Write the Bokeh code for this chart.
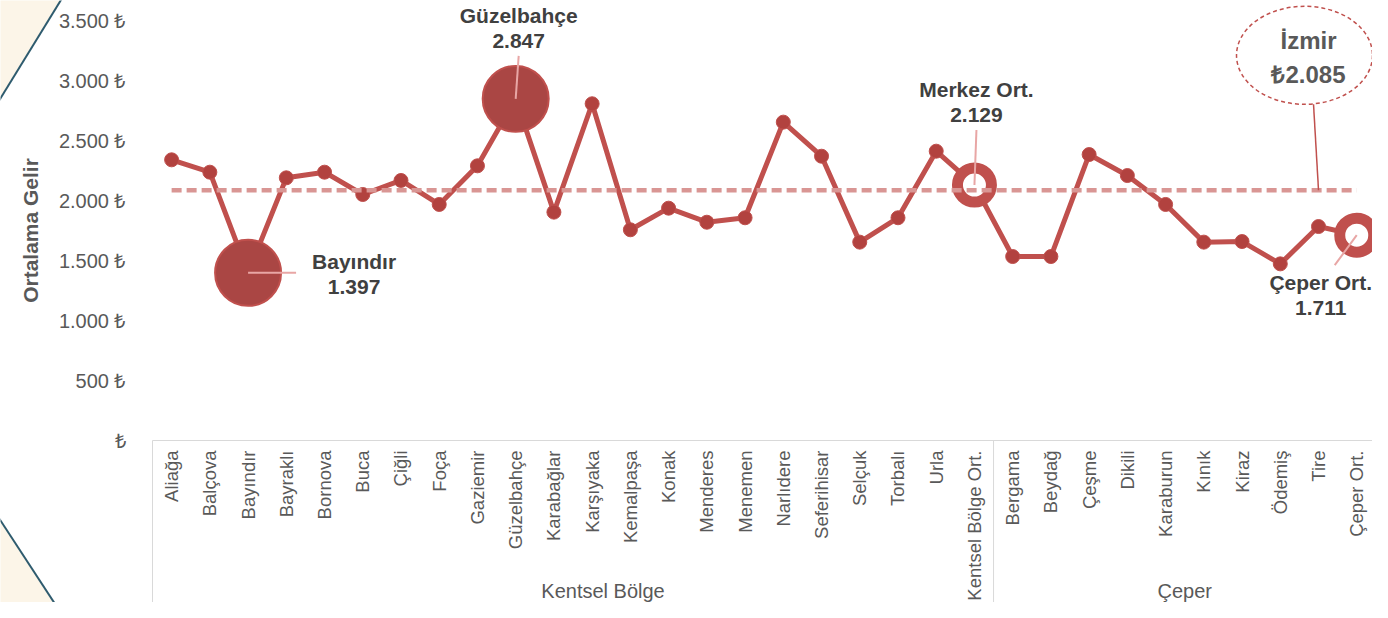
import math
from bokeh.plotting import figure
from bokeh.models import Range1d, LinearAxis, FixedTicker
from bokeh.core.properties import value
from bokeh.embed import file_html
from bokeh.resources import INLINE

# ---------------- data ----------------
categories = ["Aliağa", "Balçova", "Bayındır", "Bayraklı", "Bornova", "Buca", "Çiğli", "Foça",
              "Gaziemir", "Güzelbahçe", "Karabağlar", "Karşıyaka", "Kemalpaşa", "Konak",
              "Menderes", "Menemen", "Narlıdere", "Seferihisar", "Selçuk", "Torbalı", "Urla",
              "Kentsel Bölge Ort.",
              "Bergama", "Beydağ", "Çeşme", "Dikili", "Karaburun", "Kınık", "Kiraz", "Ödemiş",
              "Tire", "Çeper Ort."]
values = [2339, 2236, 1397, 2189, 2236, 2050, 2167, 1967, 2289, 2847, 1903, 2806, 1756, 1936,
          1819, 1856, 2653, 2369, 1653, 1856, 2411, 2129,
          1533, 1533, 2383, 2208, 1967, 1653, 1658, 1472, 1783, 1711]
group_names = ["Kentsel Bölge", "Çeper"]
group_sizes = [22, 10]
izmir_name = "İzmir"
izmir_avg = 2085
y_ticks = [0, 500, 1000, 1500, 2000, 2500, 3000, 3500]
y_title = "Ortalama Gelir"
big_points = ["Bayındır", "Güzelbahçe"]
avg_points = {"Kentsel Bölge Ort.": "Merkez Ort.", "Çeper Ort.": "Çeper Ort."}

# ---------------- geometry / style ----------------
W, H = 1372, 602
PX_CAT = 38.23          # px per category
PX_UNIT = 0.12          # px per currency unit
FRAME_L = 152           # canvas x of category axis start
ZERO_Y = 440            # canvas y of value 0
FONT_NAME = "Liberation Sans"
FONT = value(FONT_NAME)
RED = "#c0504d"
DARK = "#404040"
GREY = "#595959"


def dx(px):
    return px / PX_CAT


def dy(px):
    return px / PX_UNIT


def cx(px):  # canvas x -> data x
    return -0.5 + (px - FRAME_L) / PX_CAT


def cy(px):  # canvas y -> data y
    return (ZERO_Y - px) / PX_UNIT


def fmt(v):
    return f"{v:,.0f}".replace(",", ".")


n = len(categories)
xs = list(range(n))

p = figure(width=W, height=H, output_backend="svg", toolbar_location=None,
           x_range=Range1d(cx(0), cx(W)), y_range=Range1d(cy(H), cy(0)),
           x_axis_location=None, y_axis_location=None,
           min_border=0, min_border_left=0, min_border_right=0,
           min_border_top=0, min_border_bottom=0)
p.outline_line_color = None
p.background_fill_color = "white"
p.border_fill_color = "white"
p.grid.visible = False
for r in list(p.center):
    r.visible = False

# decorative corner shapes
cream = "#fcf5e8"
teal = "#2e5b6e"
p.patch([cx(-2), cx(62), cx(-2)], [cy(-3), cy(-3), cy(101)], fill_color=cream, line_color=None)
p.line([cx(62), cx(-2)], [cy(-3), cy(101)], line_color=teal, line_width=2)
p.patch([cx(-2), cx(66), cx(-2)], [cy(517), cy(621), cy(621)], fill_color=cream, line_color=None)
p.line([cx(-2), cx(66)], [cy(517), cy(621)], line_color=teal, line_width=2)

# group separators
bounds = [-0.5]
for s in group_sizes:
    bounds.append(bounds[-1] + s)
p.segment(x0=bounds, y0=[0] * len(bounds), x1=bounds, y1=[cy(H + 2)] * len(bounds),
          line_color="#d9d9d9", line_width=1)

# group labels
g_centers = [(bounds[i] + bounds[i + 1]) / 2 for i in range(len(group_sizes))]
g_offsets = [30, 0]
for gx, gname, go in zip(g_centers, group_names, g_offsets):
    p.text(x=[gx], y=[cy(590)], text=[gname], x_offset=go, text_font=FONT,
           text_font_size="20px", text_color=GREY, text_align="center",
           text_baseline="middle")

# y axis title
p.text(x=[cx(30)], y=[(y_ticks[0] + y_ticks[-1]) / 2], text=[y_title], angle=math.pi / 2,
       text_font=FONT, text_font_size="21px", text_font_style="bold", text_color=GREY,
       text_align="center", text_baseline="middle")

# main series
p.line(xs, values, line_color=RED, line_width=5)
small_idx = [i for i, c in enumerate(categories) if c not in big_points and c not in avg_points]
p.scatter([xs[i] for i in small_idx], [values[i] for i in small_idx], size=14,
          fill_color="#b2423f", line_color=RED, line_width=1)

big_idx = [categories.index(c) for c in big_points]
p.scatter([xs[i] for i in big_idx], [values[i] for i in big_idx], size=66,
          fill_color="#aa4644", line_color=RED, line_width=2)
avg_idx = [categories.index(c) for c in avg_points]
p.scatter([xs[i] for i in avg_idx], [values[i] for i in avg_idx], size=34,
          fill_color="white", line_color=RED, line_width=11)

# Izmir average dashed line
p.line([xs[0], xs[-1]], [izmir_avg, izmir_avg], line_color="#d99694", line_width=4.5,
       line_dash="10 5")

# callouts: (category, label, leader dx px, leader dy px (down +), text dx, text dy)
callouts = [
    ("Bayındır", "Bayındır", 48, 0, 106, 1),
    ("Güzelbahçe", "Güzelbahçe", 3, -43, 3, -71),
    ("Kentsel Bölge Ort.", avg_points["Kentsel Bölge Ort."], 2, -55, 2, -83),
    ("Çeper Ort.", avg_points["Çeper Ort."], -22, 30, -36, 60),
]
for cat, lab, ldx, ldy, tdx, tdy in callouts:
    i = categories.index(cat)
    x0, y0 = xs[i], values[i]
    p.segment(x0=[x0], y0=[y0], x1=[x0 + dx(ldx)], y1=[y0 - dy(ldy)],
              line_color="#e8a6a5", line_width=2)
    p.text(x=[x0], y=[y0], text=[f"{lab}\n{fmt(values[i])}"], x_offset=tdx, y_offset=tdy,
           text_font=FONT, text_font_size="21px", text_font_style="bold", text_color=DARK,
           text_align="center", text_baseline="middle", text_line_height=1.1)

# Izmir bubble
ti = categories.index("Tire")
ex, ey = xs[ti] + dx(-14), izmir_avg + dy(135)
p.segment(x0=[xs[ti]], y0=[izmir_avg], x1=[xs[ti] + dx(-5)], y1=[izmir_avg + dy(86)],
          line_color=RED, line_width=1.5)
p.ellipse(x=[ex], y=[ey], width=136, height=98, width_units="screen", height_units="screen",
          fill_color="white", line_color=RED, line_width=1.5, line_dash="4 3")
p.text(x=[ex], y=[ey], text=[f"{izmir_name}\n₺{fmt(izmir_avg)}"], x_offset=4, y_offset=2,
       text_font=FONT, text_font_size="24px", text_font_style="bold", text_color=GREY,
       text_align="center", text_baseline="middle", text_line_height=1.25)

# axes
xaxis = LinearAxis(fixed_location=0, ticker=FixedTicker(ticks=xs),
                   major_label_overrides={i: c for i, c in zip(xs, categories)},
                   major_label_orientation=math.pi / 2, bounds=(bounds[0], bounds[-1]),
                   axis_line_color="#d9d9d9", axis_line_width=1,
                   major_tick_line_color=None, minor_tick_line_color=None,
                   major_label_standoff=4, major_label_text_font=FONT_NAME,
                   major_label_text_font_size="18.5px", major_label_text_color=GREY)
p.add_layout(xaxis, "below")

yaxis = LinearAxis(fixed_location=-0.5, ticker=FixedTicker(ticks=y_ticks),
                   major_label_overrides={t: (f"{fmt(t)} ₺" if t else "₺") for t in y_ticks},
                   axis_line_color=None, major_tick_line_color=None,
                   minor_tick_line_color=None, major_label_standoff=21,
                   major_label_text_font=FONT_NAME, major_label_text_font_size="20px",
                   major_label_text_color=GREY)
p.add_layout(yaxis, "left")

open("out.html", "w").write(file_html(p, INLINE))
